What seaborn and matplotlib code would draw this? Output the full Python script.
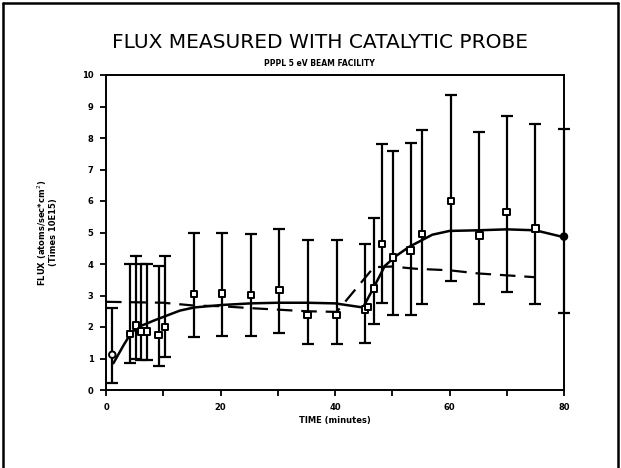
import numpy as np
import pandas as pd
import matplotlib
matplotlib.use("Agg")
import matplotlib.pyplot as plt
from matplotlib.lines import Line2D
import seaborn as sns

# ---- data ----
t_pts = [1.1, 4.2, 5.2, 6.1, 7.2, 9.2, 10.3, 15.4, 20.3, 25.3, 30.3, 35.2, 40.3,
         45.2, 45.8, 46.8, 48.2, 50.1, 53.2, 55.2, 60.3, 65.2, 70.0, 75.0, 80.0]
flux = [1.12, 1.78, 2.05, 1.85, 1.85, 1.75, 2.0, 3.05, 3.07, 3.02, 3.18, 2.38, 2.38,
        2.55, 2.63, 3.22, 4.63, 4.2, 4.43, 4.95, 6.0, 4.9, 5.65, 5.12, 4.87]
err_low = [0.23, 0.85, 1.0, 0.94, 0.94, 0.75, 1.04, 1.68, 1.7, 1.7, 1.8, 1.46, 1.46,
           1.49, np.nan, 2.1, 2.75, 2.37, 2.37, 2.72, 3.46, 2.72, 3.12, 2.72, 2.45]
err_high = [2.6, 4.0, 4.25, 4.0, 4.0, 3.95, 4.25, 5.0, 5.0, 4.95, 5.1, 4.75, 4.75,
            4.65, np.nan, 5.45, 7.8, 7.6, 7.85, 8.25, 9.35, 8.2, 8.7, 8.45, 8.3]

fit_t = [1.3, 3.0, 4.0, 5.3, 7.0, 8.3, 10.3, 12.9, 15.4, 20.3, 25.3, 30.0, 35.0, 40.0,
         44.9, 46.9, 48.7, 50.7, 53.0, 54.8, 57.0, 60.0, 65.0, 70.0, 75.0, 80.0]
fit_flux = [0.85, 1.4, 1.7, 1.98, 2.1, 2.2, 2.34, 2.52, 2.62, 2.7, 2.75, 2.77, 2.77, 2.75,
            2.62, 3.3, 3.94, 4.26, 4.55, 4.72, 4.93, 5.05, 5.07, 5.1, 5.07, 4.85]

avg_t = [0.0, 10.0, 15.4, 20.2, 25.1, 30.1, 35.0, 40.3, 46.8, 50.0, 54.0, 60.0, 65.0, 70.0, 75.0]
avg_flux = [2.8, 2.77, 2.68, 2.66, 2.6, 2.55, 2.5, 2.48, 3.9, 3.92, 3.85, 3.8, 3.7, 3.64, 3.58]

x_ticks = [0, 20, 40, 60, 80]
x_minor = [10, 30, 50, 70]
y_ticks = list(range(0, 11))

title = "FLUX MEASURED WITH CATALYTIC PROBE"
subtitle = "PPPL 5 eV BEAM FACILITY"
xlabel = "TIME (minutes)"
ylabel = "FLUX (atoms/sec*cm$^2$)\n(Times 10E15)"

# ---- plotting ----
sns.set_theme(style="white")
plt.rcParams["font.family"] = ["DejaVu Sans"]
plt.rcParams["text.color"] = "black"

fig = plt.figure(figsize=(6.21, 4.68), dpi=100)
ax = fig.add_axes([106/621, 1-390/468, (564-106)/621, (390-75)/468])

pts = pd.DataFrame({"t": t_pts, "flux": flux, "lo": err_low, "hi": err_high})
fit = pd.DataFrame({"t": fit_t, "flux": fit_flux})
avg = pd.DataFrame({"t": avg_t, "flux": avg_flux})

# error bars
eb = pts.dropna()
cont = ax.errorbar(eb["t"], eb["flux"], yerr=[eb["flux"] - eb["lo"], eb["hi"] - eb["flux"]],
                   fmt="none", ecolor="black", elinewidth=1.6, capsize=4.5, capthick=1.6,
                   zorder=2)
for art in cont.get_children():
    art.set_clip_on(False)

sns.lineplot(data=fit, x="t", y="flux", ax=ax, color="black", linewidth=1.8,
             sort=False, zorder=3)
sns.lineplot(data=avg, x="t", y="flux", ax=ax, color="black", linewidth=1.6,
             sort=False, zorder=3, dashes=False)
ax.lines[-1].set_dashes([7, 4])
for ln in ax.lines:
    ln.set_clip_on(False)

kinds = ["o"] + ["s"] * (len(t_pts) - 2) + ["o"]
faces = ["white"] * (len(t_pts) - 1) + ["black"]
pts["kind"] = kinds
for mk in ["o", "s"]:
    sub = pts[pts["kind"] == mk]
    sns.scatterplot(data=sub, x="t", y="flux", ax=ax, marker=mk, s=22,
                    facecolor=[faces[i] for i in sub.index], edgecolor="black",
                    linewidth=1.4, zorder=4, legend=False, clip_on=False)

ax.set_xlim(0, 80)
ax.set_ylim(0, 10)
ax.set_xticks(x_ticks)
ax.set_xticks(x_minor, minor=True)
ax.set_yticks(y_ticks)
ax.set_xticklabels([str(v) for v in x_ticks], fontsize=6, fontweight="bold")
ax.set_yticklabels([str(v) for v in y_ticks], fontsize=6, fontweight="bold")
ax.tick_params(axis="both", which="both", direction="out", length=4, width=1.3,
               colors="black", pad=5)
ax.tick_params(axis="x", which="both", bottom=True)
ax.tick_params(axis="y", left=True)
for s in ax.spines.values():
    s.set_visible(True)
    s.set_color("black")
    s.set_linewidth(1.4)

ax.set_xlabel(xlabel, fontsize=6, fontweight="bold", labelpad=3, color="black")
ax.set_ylabel(ylabel, fontsize=6, fontweight="bold", labelpad=17, linespacing=1.1,
              color="black")

fig.text(0.515, 1-42/468, title, ha="center", va="center", fontsize=14.5,
         fontweight="normal", color="black")
fig.text(0.515, 1-64/468, subtitle, ha="center", va="center", fontsize=5.5,
         fontweight="bold", color="black")

# figure frame
for xy in [([3/621, 3/621], [0, 1-3/468]), ([618/621, 618/621], [0, 1-3/468]),
           ([3/621, 618/621], [1-3/468, 1-3/468])]:
    fig.add_artist(Line2D(xy[0], xy[1], transform=fig.transFigure, color="black",
                          linewidth=1.8))

fig.savefig("out.png", dpi=100, facecolor="white")
